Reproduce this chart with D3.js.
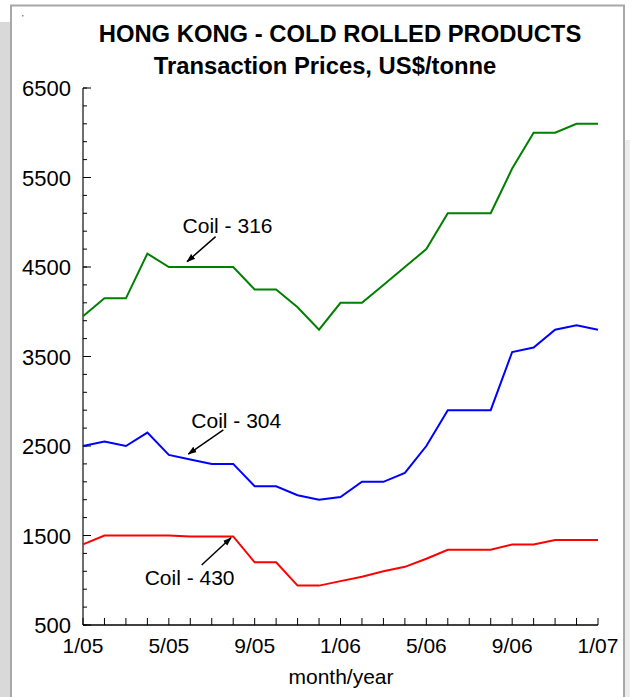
<!DOCTYPE html>
<html>
<head>
<meta charset="utf-8">
<script src="https://cdn.jsdelivr.net/npm/d3@7"></script>
<style>
  body { margin: 0; background: #fff; }
  text { font-family: "Liberation Sans", Arial, sans-serif; }
</style>
</head>
<body>
<svg id="chart" width="630" height="697"></svg>
<script>
// month index 0 = 1/05 ... 24 = 1/07
var months = d3.range(0, 25);
var tickMonths = [0, 4, 8, 12, 16, 20, 24];
var tickLabels = ["1/05", "5/05", "9/05", "1/06", "5/06", "9/06", "1/07"];
var yTicks = [500, 1500, 2500, 3500, 4500, 5500, 6500];

var coil316 = [3950, 4150, 4150, 4650, 4500, 4500, 4500, 4500, 4250, 4250, 4050, 3800, 4100,
               4100, 4300, 4500, 4700, 5100, 5100, 5100, 5600, 6000, 6000, 6100, 6100];
var coil304 = [2500, 2550, 2500, 2650, 2400, 2350, 2300, 2300, 2050, 2050, 1950, 1900, 1930,
               2100, 2100, 2200, 2500, 2900, 2900, 2900, 3550, 3600, 3800, 3850, 3800];
var coil430 = [1400, 1500, 1500, 1500, 1500, 1490, 1490, 1490, 1200, 1200, 940, 940, 990,
               1040, 1100, 1150, 1240, 1340, 1340, 1340, 1400, 1400, 1450, 1450, 1450];

var series = [
  {name: "Coil - 316", values: coil316, color: "#008000"},
  {name: "Coil - 304", values: coil304, color: "#0000ff"},
  {name: "Coil - 430", values: coil430, color: "#ff0000"}
];

// arrow tip / tail in data units (month, price), label offset from tail in px
var notes = [
  {text: "Coil - 316", tip: [4.85, 4560], tail: [6.18, 4840], dx: -33, dy: -4},
  {text: "Coil - 304", tip: [4.91, 2410], tail: [6.54, 2680], dx: -32, dy: -2},
  {text: "Coil - 430", tip: [6.90, 1475], tail: [5.53, 1170], dx: -57, dy: 20}
];

var svg = d3.select("#chart");

// page frame
svg.append("rect").attr("x", 0).attr("y", 22).attr("width", 11).attr("height", 680).attr("fill", "#d9d9d9");
svg.append("rect").attr("x", 625).attr("y", 140).attr("width", 5).attr("height", 560).attr("fill", "#ececec");
svg.append("rect")
  .attr("x", 11).attr("y", 5.5).attr("width", 613).attr("height", 700)
  .attr("fill", "#fff").attr("stroke", "#a8a8a8").attr("stroke-width", 2);
svg.append("rect").attr("x", 22).attr("y", 15).attr("width", 1.5).attr("height", 1.5).attr("fill", "#888");

var x = d3.scaleLinear().domain([0, 24]).range([83, 598]);
var y = d3.scaleLinear().domain([500, 6500]).range([625, 88]);

// titles
svg.append("text").attr("x", 340).attr("y", 41.5)
  .attr("text-anchor", "middle").attr("font-weight", "bold").attr("font-size", 23.8)
  .text("HONG KONG - COLD ROLLED PRODUCTS");
svg.append("text").attr("x", 325).attr("y", 74)
  .attr("text-anchor", "middle").attr("font-weight", "bold").attr("font-size", 23.8)
  .text("Transaction Prices, US$/tonne");

// y axis
var yAxis = svg.append("g").attr("transform", "translate(" + x(0) + ",0)");
yAxis.append("line").attr("x1", 0).attr("x2", 0).attr("y1", y(6500)).attr("y2", y(500))
  .attr("stroke", "#6e6e6e").attr("stroke-width", 2);
yAxis.selectAll(".minor").data(d3.range(500, 6501, 200)).join("line")
  .attr("x1", 0).attr("x2", 4).attr("y1", d => y(d)).attr("y2", d => y(d))
  .attr("stroke", "#000").attr("stroke-width", 1);
yAxis.selectAll(".major").data(yTicks).join("line")
  .attr("x1", 0).attr("x2", 8).attr("y1", d => y(d)).attr("y2", d => y(d))
  .attr("stroke", "#000").attr("stroke-width", 1);
yAxis.selectAll("text").data(yTicks).join("text")
  .attr("x", -12).attr("y", d => y(d) + 8)
  .attr("text-anchor", "end").attr("font-size", 22)
  .text(d => d);

// x axis
var xAxis = svg.append("g").attr("transform", "translate(0," + y(500) + ")");
xAxis.append("line").attr("x1", x(0)).attr("x2", x(24)).attr("y1", 0).attr("y2", 0)
  .attr("stroke", "#000").attr("stroke-width", 1.5);
xAxis.selectAll(".tick").data(months).join("line")
  .attr("x1", d => x(d)).attr("x2", d => x(d)).attr("y1", 0).attr("y2", -7)
  .attr("stroke", "#000").attr("stroke-width", 1);
xAxis.selectAll("text").data(tickMonths).join("text")
  .attr("x", d => x(d)).attr("y", 28)
  .attr("text-anchor", "middle").attr("font-size", 21)
  .text((d, i) => tickLabels[i]);
svg.append("text").attr("x", 341).attr("y", 684)
  .attr("text-anchor", "middle").attr("font-size", 21)
  .text("month/year");

// lines
var line = d3.line().x((d, i) => x(i)).y(d => y(d));
svg.selectAll(".series").data(series).join("path")
  .attr("d", d => line(d.values))
  .attr("fill", "none").attr("stroke", d => d.color).attr("stroke-width", 2);

// annotations
svg.append("defs").append("marker")
  .attr("id", "arrow").attr("viewBox", "0 0 10 10").attr("refX", 9).attr("refY", 5)
  .attr("markerWidth", 9).attr("markerHeight", 9).attr("markerUnits", "userSpaceOnUse")
  .attr("orient", "auto")
  .append("path").attr("d", "M0,1.5 L10,5 L0,8.5 Z").attr("fill", "#000");

var g = svg.append("g");
g.selectAll("line").data(notes).join("line")
  .attr("x1", d => x(d.tail[0])).attr("y1", d => y(d.tail[1]))
  .attr("x2", d => x(d.tip[0])).attr("y2", d => y(d.tip[1]))
  .attr("stroke", "#000").attr("stroke-width", 1.5)
  .attr("marker-end", "url(#arrow)");
g.selectAll("text").data(notes).join("text")
  .attr("x", d => x(d.tail[0]) + d.dx)
  .attr("y", d => y(d.tail[1]) + d.dy)
  .attr("font-size", 21)
  .text(d => d.text);
</script>
</body>
</html>
